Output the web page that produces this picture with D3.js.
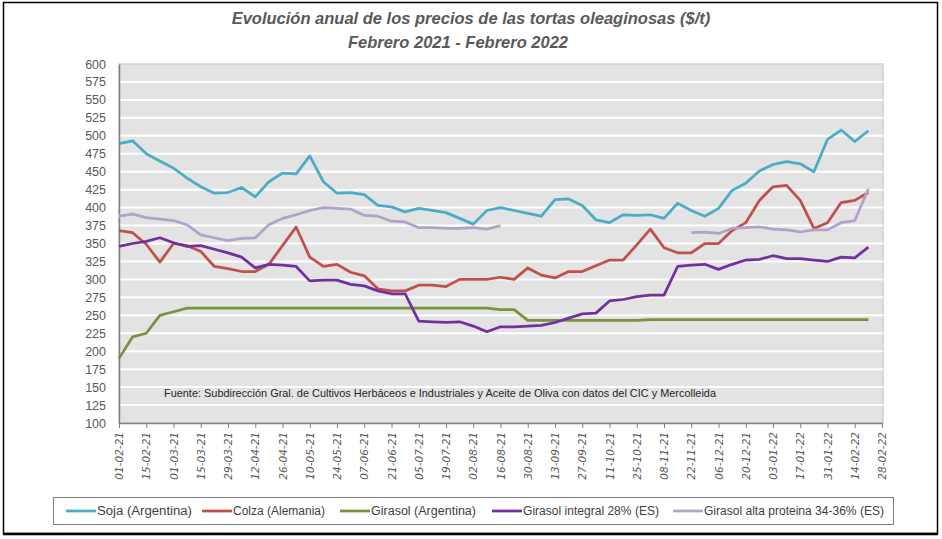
<!DOCTYPE html>
<html>
<head>
<meta charset="utf-8">
<script src="https://cdn.jsdelivr.net/npm/d3@7"></script>
<style>
  body { margin: 0; background: #fff; }
  svg { display: block; }
</style>
</head>
<body>
<div id="chart"></div>
<script>
// Weekly price dates (Monday of each week)
const dates = [
  "2021-02-01","2021-02-08","2021-02-15","2021-02-22","2021-03-01","2021-03-08","2021-03-15","2021-03-22",
  "2021-03-29","2021-04-05","2021-04-12","2021-04-19","2021-04-26","2021-05-03","2021-05-10","2021-05-17",
  "2021-05-24","2021-05-31","2021-06-07","2021-06-14","2021-06-21","2021-06-28","2021-07-05","2021-07-12",
  "2021-07-19","2021-07-26","2021-08-02","2021-08-09","2021-08-16","2021-08-23","2021-08-30","2021-09-06",
  "2021-09-13","2021-09-20","2021-09-27","2021-10-04","2021-10-11","2021-10-18","2021-10-25","2021-11-01",
  "2021-11-08","2021-11-15","2021-11-22","2021-11-29","2021-12-06","2021-12-13","2021-12-20","2021-12-27",
  "2022-01-03","2022-01-10","2022-01-17","2022-01-24","2022-01-31","2022-02-07","2022-02-14","2022-02-21"
];

// Prices in $/t for each series
const soja = [489, 493, 475, 465, 455, 441, 429, 420, 421, 428, 415, 436, 448, 447, 472, 436,
  420, 421, 418, 403, 401, 394, 399, 396, 393, 385, 377, 396, 400, 396, 392, 388,
  411, 412, 403, 383, 379, 390, 389, 390, 385, 406, 396, 388, 399, 424, 434, 451,
  460, 464, 461, 450, 495, 508, 492, 507];
const colza = [368, 365, 349, 324, 350, 347, 339, 318, 315, 311, 311, 321, 347, 373, 331, 318,
  321, 310, 305, 287, 284, 284, 292, 292, 290, 300, 300, 300, 303, 300, 316, 306,
  302, 311, 311, 319, 327, 327, 348, 370, 344, 337, 337, 350, 350, 368, 379, 410,
  429, 431, 410, 371, 379, 407, 410, 421];
const girasolArg = [190, 220, 225, 250, 255, 260, 260, 260, 260, 260, 260, 260, 260, 260, 260, 260,
  260, 260, 260, 260, 260, 260, 260, 260, 260, 260, 260, 260, 258, 258, 243, 243,
  243, 243, 243, 243, 243, 243, 243, 244, 244, 244, 244, 244, 244, 244, 244, 244,
  244, 244, 244, 244, 244, 244, 244, 244];
const girasolIntegral = [346, 350, 353, 358, 351, 346, 347, 342, 337, 331, 316, 321, 320, 318, 298, 299,
  299, 293, 291, 284, 280, 280, 242, 241, 240, 241, 235, 227, 234, 234, 235, 236,
  240, 246, 252, 253, 270, 272, 276, 278, 278, 318, 320, 321, 314, 321, 327, 328,
  333, 329, 329, 327, 325, 331, 330, 345];
const girasolAlta = [388, 391, 386, 384, 382, 376, 362, 358, 354, 357, 358, 376, 385, 390, 396, 400,
  399, 398, 389, 388, 381, 380, 372, 372, 371, 371, 372, 370, 375, null, null, null,
  null, null, null, null, null, null, null, null, null, null, 365, 366, 364, 371, 372, 373,
  370, 369, 366, 369, 369, 379, 382, 426];

const seriesNames = ["Soja (Argentina)", "Colza (Alemania)", "Girasol (Argentina)",
  "Girasol integral 28% (ES)", "Girasol alta proteina 34-36% (ES)"];
const seriesValues = [soja, colza, girasolArg, girasolIntegral, girasolAlta];
const seriesColors = ["#4bacc6", "#c0504d", "#77933c", "#7030a0", "#b3a2c7"];

// Axis ticks
const yTicks = [100, 125, 150, 175, 200, 225, 250, 275, 300, 325, 350, 375, 400, 425, 450,
  475, 500, 525, 550, 575, 600];
const xTickLabels = ["01-02-21","15-02-21","01-03-21","15-03-21","29-03-21","12-04-21","26-04-21",
  "10-05-21","24-05-21","07-06-21","21-06-21","05-07-21","19-07-21","02-08-21","16-08-21","30-08-21",
  "13-09-21","27-09-21","11-10-21","25-10-21","08-11-21","22-11-21","06-12-21","20-12-21","03-01-22",
  "17-01-22","31-01-22","14-02-22","28-02-22"];

const width = 942;
const height = 539;
const plot = { left: 119, right: 883, top: 64, bottom: 423 };

const svg = d3.select("#chart")
  .append("svg")
  .attr("width", width)
  .attr("height", height);

// outer frame of the chart
svg.append("rect")
  .attr("x", 3.5).attr("y", 2.5)
  .attr("width", 934).attr("height", 531)
  .attr("fill", "#fff")
  .attr("stroke", "#000")
  .attr("stroke-width", 1.5);
svg.append("line")
  .attr("x1", 3).attr("x2", 938)
  .attr("y1", 534).attr("y2", 534)
  .attr("stroke", "#000")
  .attr("stroke-width", 2.5);

const parseIso = d3.utcParse("%Y-%m-%d");
const parseTick = d3.utcParse("%d-%m-%y");
const xDates = dates.map(parseIso);
const tickDates = xTickLabels.map(parseTick);

const x = d3.scaleUtc()
  .domain([tickDates[0], tickDates[tickDates.length - 1]])
  .range([plot.left, plot.right - 1]);

const y = d3.scaleLinear()
  .domain([100, 600])
  .range([plot.bottom, plot.top]);

// plot background
svg.append("rect")
  .attr("x", plot.left).attr("y", plot.top)
  .attr("width", plot.right - plot.left)
  .attr("height", plot.bottom - plot.top)
  .attr("fill", "#e3e3e3")
  .attr("stroke", "#d0d0d0")
  .attr("stroke-width", 1.5);

// horizontal gridlines
svg.append("g")
  .selectAll("line")
  .data(yTicks.filter(t => t > 100 && t < 600))
  .enter()
  .append("line")
  .attr("x1", plot.left)
  .attr("x2", plot.right)
  .attr("y1", d => y(d))
  .attr("y2", d => y(d))
  .attr("stroke", "#fff")
  .attr("stroke-width", 2);

// y axis
const yAxis = svg.append("g")
  .attr("transform", `translate(${plot.left}, 0)`)
  .call(d3.axisLeft(y).tickValues(yTicks).tickSize(0).tickPadding(13));
yAxis.select(".domain").attr("stroke", "#7f7f7f").attr("stroke-width", 1.5);
yAxis.selectAll("text")
  .attr("fill", "#595959")
  .style("font-family", "Liberation Sans, Arial, sans-serif")
  .style("font-size", "12.5px");

// x axis
const xAxis = svg.append("g")
  .attr("transform", `translate(0, ${plot.bottom})`)
  .call(d3.axisBottom(x).tickValues(tickDates).tickFormat(d3.utcFormat("%d-%m-%y")).tickSize(5).tickSizeOuter(0));
xAxis.select(".domain").attr("stroke", "#7f7f7f").attr("stroke-width", 1.5);
xAxis.selectAll(".tick line").attr("stroke", "#7f7f7f");
xAxis.selectAll("text")
  .attr("fill", "#595959")
  .attr("text-anchor", "end")
  .attr("transform", "rotate(-90)")
  .attr("x", -9)
  .attr("y", 0)
  .attr("dy", "0.35em")
  .style("font-family", "DejaVu Sans, Verdana, sans-serif")
  .style("font-style", "italic")
  .style("font-size", "10.5px");

// series lines
const line = d3.line()
  .defined(d => d.v != null)
  .x(d => x(d.date))
  .y(d => y(d.v));

seriesValues.forEach(function(values, i) {
  const pts = values.map((v, j) => ({ date: xDates[j], v: v }));
  svg.append("path")
    .datum(pts)
    .attr("fill", "none")
    .attr("stroke", seriesColors[i])
    .attr("stroke-width", 2.75)
    .attr("stroke-linejoin", "round")
    .attr("d", line);
});

// source note
svg.append("text")
  .attr("x", 164)
  .attr("y", 397)
  .attr("textLength", 552)
  .attr("lengthAdjust", "spacingAndGlyphs")
  .attr("fill", "#262626")
  .style("font-family", "Liberation Sans, Arial, sans-serif")
  .style("font-size", "11.5px")
  .text("Fuente: Subdirección Gral. de Cultivos Herbáceos e Industriales y Aceite de Oliva con datos del CIC y Mercolleida");

// title
const title = svg.append("text")
  .attr("text-anchor", "middle")
  .attr("fill", "#595959")
  .style("font-family", "Liberation Sans, Arial, sans-serif")
  .style("font-weight", "bold")
  .style("font-style", "italic")
  .style("font-size", "16.5px");
title.append("tspan").attr("x", 471).attr("y", 24)
  .text("Evolución anual de los precios de las tortas oleaginosas ($/t)");
title.append("tspan").attr("x", 458).attr("y", 48)
  .text("Febrero 2021 - Febrero 2022");

// legend
svg.append("rect")
  .attr("x", 53.5).attr("y", 497.5)
  .attr("width", 840).attr("height", 27)
  .attr("fill", "#fff")
  .attr("stroke", "#7f7f7f")
  .attr("stroke-width", 1);

const legendX = [66, 202, 340, 492, 673];
const legendTextW = [95, 92, 105, 136, 180];
const legend = svg.append("g")
  .selectAll("g")
  .data(seriesNames)
  .enter()
  .append("g")
  .attr("transform", (d, i) => `translate(${legendX[i]}, 511)`);

legend.append("line")
  .attr("x1", 0).attr("x2", 30)
  .attr("stroke", (d, i) => seriesColors[i])
  .attr("stroke-width", 2.75);

legend.append("text")
  .attr("x", 31)
  .attr("dy", "0.35em")
  .attr("textLength", (d, i) => legendTextW[i])
  .attr("lengthAdjust", "spacingAndGlyphs")
  .attr("fill", "#404040")
  .style("font-family", "Liberation Sans, Arial, sans-serif")
  .style("font-size", "12.5px")
  .text(d => d);
</script>
</body>
</html>
